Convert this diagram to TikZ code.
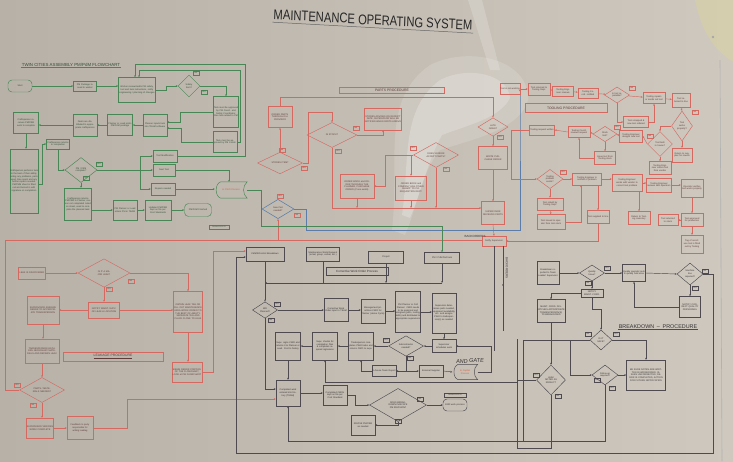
\documentclass[tikz,border=0pt]{standalone}
\usepackage{fontspec}
\setmainfont{Liberation Sans}
\usetikzlibrary{shapes.geometric,arrows.meta}
\definecolor{bgl}{RGB}{184,177,167}
\definecolor{bgr}{RGB}{206,200,190}
\definecolor{gl}{RGB}{72,135,85}
\definecolor{gt}{RGB}{50,80,58}
\definecolor{rl}{RGB}{212,105,98}
\definecolor{rt}{RGB}{95,60,58}
\definecolor{kl}{RGB}{78,74,80}
\definecolor{kt}{RGB}{55,50,52}
\definecolor{bl}{RGB}{92,125,172}
\definecolor{org}{RGB}{220,90,60}
\newcommand\tnyf{\fontsize{2.3}{2.75}\selectfont}
\newcommand\tagf{\fontsize{1.7}{1.9}\selectfont}
\newcommand\hdf{\fontsize{3.4}{3.8}\selectfont}
\begin{document}
\begin{tikzpicture}[x=1pt,y=-1pt,
  every node/.style={font=\tnyf, align=center},
  bxs/.style n args={2}{rectangle, minimum width=#1pt, minimum height=#2pt, text width=#1pt, inner xsep=0pt, inner ysep=0.4pt},
  dz/.style n args={3}{diamond, minimum width=#1pt, minimum height=#2pt, text width=#3pt, inner sep=0pt},
  gB/.style={draw=gl, line width=0.45pt, text=gt},
  rB/.style={draw=rl, line width=0.45pt, text=rt},
  kB/.style={draw=kl, line width=0.45pt, text=kt},
  gL/.style={draw=gl, line width=0.45pt},
  rL/.style={draw=rl, line width=0.45pt},
  kL/.style={draw=kl, line width=0.45pt},
  bL/.style={draw=bl, line width=0.55pt},
  ar/.style={-{Stealth[length=2pt,width=1.7pt]}},
  stad/.style={rounded corners=4pt},
  tg/.style={draw, rectangle, font=\tagf, inner sep=0.25pt, minimum width=6pt, minimum height=3.6pt},
  hd/.style={font=\hdf, inner sep=0.5pt}
]
\useasboundingbox (0,0) rectangle (733,461);
\shade[left color=bgl,right color=bgr] (0,0) rectangle (733,461);
% glare and tape
\fill[white,opacity=0.15] (392,230) .. controls (400,160) and (380,100) .. (430,65) .. controls (470,45) and (530,60) .. (528,100) .. controls (520,130) and (470,140) .. (440,150) .. controls (420,175) and (418,205) .. (405,235) -- cycle;
\fill[white,opacity=0.22] (402,215) .. controls (410,160) and (400,110) .. (440,80) .. controls (470,65) and (508,75) .. (510,98) .. controls (500,118) and (468,125) .. (442,135) .. controls (428,160) and (422,190) .. (410,218) -- cycle;
\fill[white,opacity=0.18] (468,0) -- (482,0) -- (500,70) -- (490,70) -- cycle;
\fill[yellow!30!bgr,opacity=0.35] (695,0) -- (733,0) -- (733,62) .. controls (718,52) and (703,38) .. (695,0) -- cycle;
\fill[gray!70] (713,37) circle (1.4);
\draw[gray!60,line width=0.6pt] (720,60) -- (722,461);

% title
\node[font=\fontsize{14}{14}\selectfont, xscale=0.8, rotate=-2.5, text=black!85, inner sep=1pt] (title) at (373,20) {MAINTENANCE OPERATING SYSTEM};
\draw[black!60,line width=0.5pt] ([yshift=-1.5pt]title.south west) -- ([yshift=-1.5pt]title.south east);

%================ GREEN PM SECTION
\node[hd, text=gt, font=\fontsize{4.4}{5}\selectfont] (ghd) at (71,65) {TWIN CITIES ASSEMBLY PM/PdM FLOWCHART};
\draw[gL] (ghd.south west) -- (ghd.south east);
\node[gB, stad, bxs={24}{12}] (st) at (20,86) {Start};
\node[gB, bxs={23}{10}] (g1) at (85,86) {PM Package issued to worker};
\node[gB, bxs={37}{25}] (g2) at (137,90) {Worker reviews/edits PM safety, tool and task instructions, notify engineering / planning of changes};
\node[gB, dz={22}{22}{11}] (gd1) at (189,86) {Safety item?};
\node[gB, bxs={25}{31}] (g4) at (226,112) {Task must be approved by PM Coord. and Safety Coordinator, then task added to PM};
\node[gB, bxs={24}{21}] (g5) at (225,142) {Task must be approved by PM Coord.};
\node[gB, bxs={24}{22}] (g6) at (155,125) {Planner inputs task into TEAM software};
\node[gB, bxs={25}{21}] (g7) at (120,125) {Planner or Lead prints PM/PdM package};
\node[gB, bxs={24}{22}] (g8) at (85,125) {Deals are distributed to appropriate craftsperson};
\node[gB, bxs={25}{21}] (g9) at (26,123) {Craftsperson receives PM/PdM work to complete};
\node[gB, bxs={28}{64}] (g10) at (24,181) {Craftsperson performs task to the best of their ability, noting any problems, parts used, time spent and any further repairs needed. PM/PdM sheet is filled out and turned in with signature on completion};
\node[gB, bxs={23}{10}] (g11) at (58,144) {Craftsperson returns to completion};
\node[gB, dz={32}{25}{15}] (gd2) at (81,170) {PM / PdM complete?};
\node[gB, bxs={27}{32}] (g12) at (78,204) {Craftsperson returns PM/PdM to Planner, reason not completed noted on sheet, used to complete the planned task};
\node[gB, bxs={24}{20}] (g13) at (125,210) {PM Planner or Lead enters PM in TEAM};
\node[gB, bxs={26}{20}] (g14) at (158,210) {Updated PM/PdM kept on file per Cost Standards};
\node[gB, stad, bxs={27}{13}] (gend) at (198,210) {PM/PdM Finished};
\node[gB, bxs={24}{12}] (gtm) at (165,156) {Tool Modification};
\node[gB, bxs={22}{12}] (gnt) at (164,170) {Next Tool};
\node[gB, bxs={24}{12}] (grn) at (163,189) {Repairs needed};
\node[bxs={32}{16}, text width=22pt, text=org] (gand) at (231,190) {to CWO Process};
\draw[gL] ([xshift=6pt]gand.north west) -- (gand.north east) to[bend right=50] (gand.south east) -- ([xshift=6pt]gand.south west) to[bend left=75] ([xshift=6pt]gand.north west);
\node[gB, tg] (tg1) at (196,73) {NO};
\node[gB, tg] (tg2) at (204,92) {YES};
\node[gB, tg] (tg3) at (99,164) {YES};
\node[gB, tg] (tg4) at (86,178) {NO};
\node[gB, tg, minimum width=20pt] (grev) at (219,227) {Revised 11-12-03};

\draw[gL,ar] (st.east) -- (st.east -| g1.west);
\draw[gL,ar] (g1.east) -- (g1.east -| g2.west);
\draw[gL,ar] (g2.east) -- ++(10,0) |- (gd1.west);
\draw[gL,ar] (gd1.east) -| (g4.north);
\draw[gL,ar] (g4.west) -- ++(-33,0) |- ([yshift=3pt]g6.east);
\draw[gL,ar] (g5.west) -- ++(-32,0) |- ([yshift=-3pt]g6.east);
\draw[gL,ar] (g5.east) -| ++(3,-72) -| ([xshift=2pt]g2.north);
\draw[gL,ar] (gtm.east) -| ++(68,-92) -| ([xshift=-2pt]g2.north);
\draw[gL,ar] (g6.west) -- (g6.west -| g7.east);
\draw[gL,ar] (g7.west) -- (g7.west -| g8.east);
\draw[gL,ar] (g8.west) -- (g8.west -| g9.east);
\draw[gL,ar] (g9.south) -- (g9.south |- g10.north);
\draw[gL,ar] ([yshift=-3pt]g10.east) -- ++(4,0) |- (g11.west);
\draw[gL,ar] (g11.south) |- (gd2.west);
\coordinate (gsp) at (140,170);
\draw[gL,ar] (gd2.east) -- (gnt.west);
\draw[gL,ar] (gd2.east -| gsp) |- (gtm.west);
\draw[gL,ar] (gd2.east -| gsp) |- (grn.west);
\draw[gL,ar] (gnt.east) -| ([xshift=-2pt]gand.north);
\draw[gL,ar] (grn.east) -- (grn.east -| gand.west);
\draw[gL,ar] (gd2.south) -- (gd2.south |- g12.north);
\draw[gL,ar] (g12.east |- g13.west) -- (g13.west);
\draw[gL,ar] (g13.east) -- (g14.west);
\draw[gL,ar] (g14.east) -- (gend.west);

%================ PARTS (red)
\node[rB, hd, minimum width=105pt, minimum height=6pt] (rhd) at (392,90) {PARTS PROCEDURE};
\node[rB, bxs={24}{21}] (rp1) at (280,117) {ORDER PARTS THROUGH SUPERVISOR};
\node[rB, dz={45}{21}{20}] (rs) at (280,163) {STORES ITEM?};
\node[rB, dz={50}{25}{22}] (ri) at (332,135) {IN STOCK?};
\node[rB, bxs={37}{22}] (ra) at (383,119) {STORES ADVISES ON RECEIPT DATE, SUPERVISOR WILL BE NOTIFIED WHEN PARTS ARRIVE};
\node[rB, dz={45}{25}{20}] (rv) at (436,155) {DOES VENDOR ACCEPT PARTS?};
\node[rB, bxs={34}{24}] (rb1) at (357,186) {ORDER BOOK and ORDER THROUGH THE PLANNER, PURCHASE ORDER (if one exists)};
\node[rB, bxs={31}{24}] (rb2) at (411,188) {ORDER BOOK and COMPANY HAS OTHER SUBMIT TO P.O. REQUISITION DEPT.};
\node[rB, dz={30}{16}{14}] (rlate) at (493,127) {LATE ISSUE?};
\node[rB, bxs={29}{23}] (rpo) at (493,158) {WRITE PURCHASE ORDER};
\node[rB, bxs={23}{23}] (rsr) at (493,213) {SUPERVISOR RECEIVES PARTS};
\node[rB, bxs={24}{10}] (rret) at (494,241) {Notify Supervisor};
\node[draw=bl, line width=0.55pt, text=rt, dz={32}{18}{15}] (bd) at (278,209) {New Part needed?};
\node[rB, tg] (tg5) at (282,150) {NO};
\node[rB, tg] (tg6) at (304,168) {YES};
\node[rB, tg] (tg7) at (356,128) {NO};
\node[rB, tg] (tg8) at (338,151) {YES};
\node[rB, tg] (tg9) at (413,148) {YES};
\node[rB, tg] (tg10) at (446,169) {NO};
\node[rB, tg] (tg11) at (500,137) {YES};
\node[rB, tg] (tg12) at (280,196) {YES};
\node[rB, tg] (tg13) at (297,215) {NO};
\node[font=\fontsize{3}{3}\selectfont, text=kt] (bko) at (475,236) {BACKORDERS};
\coordinate (ry) at (0,97);
\coordinate (ry2) at (0,208);
\draw[rL,ar] (rs.north) -- (rp1.south);
\draw[rL,ar] (rp1.north) |- (rlate.north |- ry) -- (rlate.north);
\draw[rL,ar] (rs.east) -- ++(5,0) |- ([yshift=10pt]ri.north) -- (ri.north);
\draw[rL,ar] (ri.east) -| (ra.south);
\draw[rL,ar] (ri.south) |- ([yshift=5pt]rsr.west);
\draw[rL,ar] (rb1.south) -- (rb1.south |- ry2);
\draw[rL,ar] (rb2.south) -- (rb2.south |- ry2);
\draw[rL,ar] (rv.south) -- (rv.south |- ry2);
\draw[rL,ar] (rv.west) -- ++(-28,0) |- (rb1.east);
\draw[rL,ar] (rb2.north |- rv.west) -- (rb2.north);
\draw[rL,ar] (rlate.south) -- (rpo.north);
\draw[rL,ar] (rpo.south) -- (rsr.north);
\draw[rL,ar] (rsr.south) -- (rret.north);
\coordinate (bcorner) at (520,230);
\draw[bL,ar] (bd.east) -- ++(12,0) |- (bcorner) -- (bcorner |- rhd.south) -- ++(0,-4);

%================ TOOLING (red)
\node[rB, hd, minimum width=82pt, minimum height=9pt] (thd) at (566,108) {TOOLING PROCEDURE};
\node[rB, bxs={20}{11}] (t1) at (510,89) {Tool is not working};
\node[rB, bxs={22}{12}] (t2) at (539,89) {Tool returned to Tooling Dept.};
\node[rB, bxs={21}{10}] (t3) at (563,91) {Tooling Engineer reviews};
\node[rB, bxs={20}{10}] (t4) at (588,93) {Tooling Coord. notified};
\node[rB, dz={25}{16}{11}] (td1) at (617,95) {Is tool repairable?};
\node[rB, bxs={22}{11}] (t5) at (654,98) {Tooling repairs or sends out tool};
\node[rB, bxs={18}{14}] (t6) at (681,100) {Tool returned to line};
\node[rB, bxs={25}{11}] (t7) at (636,122) {Tool scrapped \& new tool ordered};
\node[rB, dz={21}{30}{10}] (td2) at (682,126) {Tool works properly?};
\node[rB, bxs={20}{14}] (t8) at (682,155) {Return to supplier for rework};
\node[rB, bxs={25}{10}] (t9) at (542,130) {Tooling request written};
\node[rB, bxs={22}{11}] (t10) at (579,132) {Tooling Coord. reviews request};
\node[rB, dz={24}{15}{11}] (td3) at (605,134) {Stock tool?};
\node[rB, bxs={23}{12}] (t11) at (631,136) {Tooling Engineer designs new tool};
\node[rB, dz={25}{25}{11}] (td4) at (660,144) {Tool built in house?};
\node[rB, bxs={21}{13}] (t12) at (605,158) {Issue tool from Tooling stock};
\node[rB, bxs={22}{13}] (t13) at (660,168) {Tooling Engineer orders tool from vendor};
\node[rB, dz={26}{18}{12}] (td5) at (550,179) {Tooling problem exists?};
\node[rB, bxs={29}{12}] (t14) at (587,179) {Tooling Engineer is notified of problem};
\node[rB, bxs={30}{17}] (t15) at (627,183) {Tooling Engineer works with vendor to correct tool problem};
\node[rB, bxs={25}{14}] (t16) at (659,185) {Tooling Engineer reviews with operators};
\node[rB, bxs={22}{18}] (t17) at (692,188) {Operator verifies tool works properly};
\node[rB, bxs={26}{12}] (t18) at (550,204) {Tool rebuilt by Tooling Dept.};
\node[rB, bxs={28}{15}] (t19) at (551,222) {Tool issued to operator from tool stock};
\node[rB, bxs={22}{13}] (t20) at (598,217) {Tool supplied to line};
\node[rB, bxs={22}{13}] (t21) at (639,218) {Return to Tooling inventory};
\node[rB, bxs={20}{11}] (t22) at (668,220) {Tool returned to stock};
\node[rB, bxs={22}{13}] (t23) at (692,220) {Tool approved for production};
\node[rB, bxs={22}{18}] (t24) at (692,244) {Tag of out-of-use tool is filled out by Tooling};
\node[rB, tg] (tg14) at (632,88) {NO};
\node[rB, tg] (tg15) at (617,127) {YES};
\node[rB, tg] (tg16) at (650,136) {NO};
\node[rB, tg] (tg17) at (563,172) {YES};
\node[rB, tg] (tg18) at (695,112) {NO};
\draw[rL,ar] (t1) -- (t2);
\draw[rL,ar] (t2) -- (t3);
\draw[rL,ar] (t3) -- (t4);
\draw[rL,ar] (t4) -- (td1);
\draw[rL,ar] (td1) -- (t5);
\draw[rL,ar] (t5) -- (t6);
\draw[rL,ar] (td1.south) |- (t7.west);
\draw[rL,ar] (t7.east) -| (t5.south);
\draw[rL,ar] (t6.south) -- (td2.north);
\draw[rL,ar] (td2.south) -- (t8.north);
\draw[rL,ar] (td2.west) -| (td4.north);
\draw[rL,ar] (td4.west) -- (t11.east);
\draw[rL,ar] (t11.west) -- (td3.east);
\draw[rL,ar] (td3.west) -- (t10.east);
\draw[rL,ar] (t10.west) -- (t9.east);
\draw[rL,ar] (td3.south) -- (t12.north);
\draw[rL,ar] (t12.west) -| (t10.south);
\draw[rL,ar] (td4.south) -- (t13.north);
\draw[rL,ar] (t9.west) -- ++(-18,0) |- (td5.west);
\draw[rL,ar] (td5.east) -- (t14.west);
\draw[rL,ar] (t14.east) -- (t14.east -| t15.west);
\draw[rL,ar] (t15.east) -- (t15.east -| t16.west);
\draw[rL,ar] (t16.east) -- (t16.east -| t17.west);
\draw[rL,ar] (t17.south) -- (t23.north);
\draw[rL,ar] (t23.west) -- (t22.east);
\draw[rL,ar] (t23.south) -- (t24.north);
\draw[rL,ar] (td5.south) -- (t18.north);
\draw[rL,ar] (t18.south) -- (t19.north);
\draw[rL,ar] (t19.east) -| ([xshift=-6pt]t14.south);
\draw[rL,ar] (t20.north |- t14.south) -- (t20.north);
\draw[rL,ar] (t21.north |- t15.south) -- (t21.north);
\draw[rL,ar] (t20.south) |- (rret.east);

%================ LEAKAGE (red)
\node[rB, bxs={27}{12}] (l1) at (32,273) {LEAK IS DISCOVERED};
\node[rB, dz={52}{23}{24}] (ld1) at (104,273) {IS IT A MAJOR LEAK?};
\node[rB, bxs={31}{16}] (l2) at (104,310) {NOTIFY MAINT. SUPV. OF LEAK \& LOCATION};
\node[rB, bxs={32}{28}] (l3) at (43,310) {SUPERVISOR ASSIGNS REPAIR TO APPROPRIATE TRADESPERSON};
\node[rB, bxs={34}{24}] (l4) at (42,351) {TRADESPERSON GATHERS NECESSARY MATERIALS AND REPAIRS LEAK};
\node[rB, hd, minimum width=100pt, minimum height=9pt] (lhd) at (113,356.5) {\underline{LEAKAGE PROCEDURE}};
\node[rB, bxs={29}{41}] (l5) at (188,312) {OBTAIN LEAK TAG OR FILL OUT MAINTENANCE AREA WORK ORDER TO THE BEST OF ABILITY. SEPARATE TAG AND PLACE CLOSE TO LEAK};
\node[rB, bxs={30}{20}] (l6) at (187,372) {BEGIN REPAIR PORTION OF THE FLOWCHART, LOOK at PM FLOWCHART};
\node[rB, dz={45}{25}{20}] (ld2) at (42,390) {PARTS / MATERIALS NEEDED?};
\node[rB, bxs={27}{20}] (l7) at (40,428) {SUPERVISOR VERIFIES WORK COMPLETE};
\node[rB, bxs={26}{23}] (l8) at (80,428) {Feedback to party responsible for writing leaktag};
\node[rB, tg] (tg19) at (131,281) {NO};
\node[rB, tg] (tg20) at (109,289) {YES};
\node[rB, tg] (tg21) at (17,385) {YES};
\node[rB, tg] (tg22) at (33,405) {NO};
\coordinate (rleft) at (5,240);
\draw[rL,ar] (l1.east) -- (ld1.west);
\draw[rL,ar] (ld1.south) -- (l2.north);
\draw[rL,ar] (ld1.east) -| (l5.north);
\draw[rL,ar] (l2.west) -- (l3.east);
\draw[rL,ar] (l2.east) -- (l2.east -| l5.west);
\draw[rL,ar] (l3.south) -- (l3.south |- l4.north);
\draw[rL,ar] (l4.south) -- (ld2.north);
\draw[rL,ar] (ld2.south) -- (ld2.south |- l7.north);
\draw[rL,ar] (l7.east) -- (l8.west);
\draw[rL,ar] (l5.south) -- (l5.south |- l6.north);
\draw[rL] (ld2.west) -| (rleft) -- (rleft -| rret.west);
\draw[rL,ar] (bd.south |- rleft) -- (bd.south);

%================ CORRECTIVE WORK ORDER (dark)
\node[kB, bxs={38}{14}] (kcms) at (265,254) {CMMS/Control Breakdown};
\node[kB, bxs={33}{14}] (kwr) at (323,254) {Maintenance Work Request (email, group, verbal, etc.)};
\node[kB, bxs={35}{12}] (kpj) at (386,257) {Project};
\node[kB, bxs={35}{11}] (kpm) at (442,258) {PM / PdM find task};
\node[kB, hd, minimum width=62pt, minimum height=8pt, font=\fontsize{3}{3.4}\selectfont] (khd) at (357,271) {Corrective Work Order Process};
\node[kB, dz={25}{15}{12}] (kd1) at (265,310) {WO Planned?};
\node[kB, bxs={24}{23}] (k1) at (336,310) {Corrective Work Order input to TEAM};
\node[kB, bxs={24}{24}] (k2) at (373,311) {Management prioritizes CWO for Planner (Home Cycle)};
\node[kB, bxs={25}{41}] (k3) at (408,312) {PM Planner or Cell Planner: CWO needs to be analyzed and assigned (parts, tooling, skills) and distributed to appropriate supervisors};
\node[kB, bxs={24}{40}] (k4) at (444,313) {Supervisor determines parts needed, equipment availability, etc. and assigns CWO to tradesperson(s) as needed};
\node[kB, bxs={24}{13}] (k5) at (444,346) {Supervisor schedules work};
\node[kB, dz={35}{18}{16}] (kd2) at (406,346) {Subcontractor needed?};
\node[kB, bxs={25}{28}] (k6) at (361,346) {Tradesperson completes CWO tasks and returns CWO to supv.};
\node[kB, bxs={25}{28}] (k7) at (325,346) {Supv. checks for completion, files \& completes required signatures};
\node[kB, bxs={25}{28}] (k8) at (288,346) {Supv. signs CWO and returns it to Planner or Lead. Post to history};
\node[kB, bxs={24}{11}] (k9) at (384,371) {In-house Team Report};
\node[kB, bxs={24}{12}] (k10) at (431,371) {External Supplier};
\node[bxs={25}{15}, text width=18pt, text=org] (kand) at (465,372) {to Capital Process};
\draw[kL] ([xshift=6pt]kand.north west) -- (kand.north east) to[bend right=50] (kand.south east) -- ([xshift=6pt]kand.south west) to[bend left=75] ([xshift=6pt]kand.north west);
\node[font=\fontsize{5.5}{6}\selectfont\itshape, text=kt, rotate=4] (andg) at (470,361) {AND GATE};
\node[kB, bxs={24}{26}] (kcw) at (288,393) {Completed work entered into history (TEAM)};
\node[kB, bxs={24}{20}] (k11) at (335,395) {Completed CWOs kept on file per Cost Standard};
\node[kB, dz={57}{30}{26}] (kd3) at (398,405) {DOES BREAKDOWN INDICATE PM REVISION?};
\node[kB, stad, bxs={24}{12}] (kend) at (455,405) {END work process};
\node[kB, tg, minimum width=22pt] (krev) at (455,395) {Revised 11-12-03};
\node[kB, bxs={24}{20}] (k12) at (363,425) {REVISE PM/PdM as needed};
\node[kB, tg] (tg23) at (277,304) {YES};
\node[kB, tg] (tg24) at (271,320) {NO};
\node[kB, tg] (tg25) at (386,340) {YES};
\node[kB, tg] (tg26) at (410,358) {NO};
\node[kB, tg] (tg27) at (420,399) {NO};
\node[kB, tg] (tg28) at (398,421) {YES};
\node[font=\fontsize{3}{3}\selectfont, text=kt, rotate=-90] (bko2) at (507,268) {BACKORDERS};
\coordinate (ky) at (0,283);
\coordinate (ko) at (236,453);
\coordinate (kr1) at (517,382);
\coordinate (kr2) at (517,441);
\coordinate (kr2b) at (523,441);
\coordinate (kr3) at (517,448);
\draw[kL,ar] (kcms.south) -- (kd1.north);
\draw[kL] (kwr.south) -- (kwr.south |- ky);
\draw[kL,ar] (kpj.south) -- (kpj.south |- ky);
\draw[kL,ar] (kpm.south) -- (kpm.south |- ky);
\draw[kL,ar] (kpm.south |- ky) -- (kcms.south |- ky);
\draw[kL,ar] (kd1.east) -- (k1.west);
\draw[kL,ar] (k1.east) -- (k1.east -| k2.west);
\draw[kL,ar] (k2.east) -- (k2.east -| k3.west);
\draw[kL,ar] (k3.east) -- (k3.east -| k4.west);
\draw[kL,ar] (k4.south) -- (k5.north);
\draw[kL,ar] (k5.west) -- (kd2.east);
\draw[kL,ar] (kd2.west) -- (k6.east);
\draw[kL,ar] (k6.west) -- (k7.east);
\draw[kL,ar] (k7.west) -- (k8.east);
\draw[kL,ar] (kd2.south) |- (k9.east);
\draw[kL,ar] (kd2.south |- k9.east) -- (k10.west);
\draw[kL,ar] (k9.west) -| (k6.south);
\draw[kL,ar] (k10.east) -- (kand.west);
\draw[kL,ar] (kand.east) -- ++(14,0) |- (k5.east);
\draw[kL] (rret.south) -- ++(0,105);
\draw[kL,ar] ([xshift=9pt]rret.south) -- ++(0,40);
\draw[kL] ([xshift=9pt]rret.south) -- ++(0,85);
\draw[kL,ar] (k8.south) -- (kcw.north);
\draw[kL,ar] (kr1) -- (k7.south |- kr1) -- (k7.south);
\draw[kL,ar] (kd1.south) |- ([yshift=4pt]kcw.west);
\draw[kL,ar] (kcw.east) -- (kcw.east -| k11.west);
\draw[kL,ar] (k11.east) -- ++(8,0) |- (kd3.west);
\draw[kL,ar] (kd3.east) -- (kend.west);
\draw[kL,ar] (kd3.south) |- (k12.east);
\draw[kL,ar] (kr2) -- (kcw.south |- kr2) -- (kcw.south);
\draw[kL] (kr1 |- 0,339) -- (kr3);
\draw[rL,ar] (l8.east) -- ++(34,0) |- ([yshift=-6pt]kcw.west);
\draw[rL,ar] (l6.east) -- ++(11,0) |- ([yshift=3pt]kcms.west);
\draw[gL,ar] (gand.east) -- ++(14,0) |- (kpm.north |- 0,226) -- (kpm.north);

%================ BREAKDOWN (dark)
\node[kB, bxs={22}{23}] (b1) at (548,273) {Breakdown reported to Team Leader/ Supervisor};
\node[kB, dz={25}{16}{11}] (bq) at (592,273) {Quality Issue?};
\node[kB, bxs={23}{17}] (b2) at (634,273) {Quality operator puts in quality hold area};
\node[kB, dz={26}{22}{12}] (bdd) at (690,274) {Machine line repaired?};
\node[kB, bxs={21}{21}] (b3) at (690,307) {NOTIFY CORRECT QUALITY PERSONNEL};
\node[kB, bxs={22}{8}] (bn) at (592,293) {NOTIFY MAINT. CORD.};
\node[kB, bxs={28}{23}] (b4) at (551,311) {MAINT. CORD. DISPATCHES APPROPRIATE TRADESPERSON(S) TO BREAKDOWN};
\node[font=\fontsize{5.4}{6}\selectfont, text=kt, inner sep=0.5pt] (bhd) at (658,327) {BREAKDOWN\enspace--\enspace PROCEDURE};
\draw[kL] (bhd.south west) -- (bhd.south east);
\node[kB, dz={22}{20}{10}] (bsafe) at (601,340) {IS IT SAFE?};
\node[kB, dz={29}{30}{13}] (bleak) at (551,380) {LEAK NOTED AS RESULT?};
\node[kB, dz={26}{20}{12}] (bfol) at (605,375) {Follow up required?};
\node[kB, bxs={39}{30}] (b5) at (646,375) {BE SURE NOTES ARE WRITTEN IN WORKORDER, ISSUES UNCORRECTED, REPAIR IS COMPLETED, ACTION FOR FUTURE NOTIFICATION};
\node[kB, tg] (tg29) at (607,268) {YES};
\node[kB, tg] (tg30) at (588,283) {NO};
\node[kB, tg] (tg31) at (705,271) {NO};
\node[kB, tg] (tg32) at (695,288) {YES};
\node[kB, tg] (tg33) at (588,334) {NO};
\node[kB, tg] (tg34) at (616,334) {YES};
\node[kB, tg] (tg35) at (536,375) {YES};
\node[kB, tg] (tg36) at (558,396) {NO};
\node[kB, tg] (tg37) at (597,380) {NO};
\node[kB, tg] (tg38) at (612,388) {YES};
\draw[kL,ar] (b1.east) -- (bq.west);
\draw[kL,ar] (bq.east) -- (b2.west);
\draw[kL,ar] (b2.east) -- (bdd.west);
\draw[kL,ar] (bdd.south) -- (b3.north);
\draw[kL,ar] (b3.west) -| (b2.south);
\draw[kL,ar] (bq.south) -- (bn.north);
\draw[kL,ar] (bn.south) -- ++(0,12) -| (bsafe.north);
\draw[kL,ar] (bn.west) -| (b4.north);
\draw[kL,ar] (b4.south) -- (bleak.north);
\draw[kL,ar] (bsafe.east) -| (b5.north);
\draw[kL,ar] (bsafe.west) -- ++(-20,0) |- (bfol.west);
\draw[kL] (bsafe.west) -| (kr2b);
\draw[kL,ar] (bfol.east) -- (b5.west);
\draw[kL] (bfol.south) |- (kr2);
\draw[kL] (bleak.west) -- (bleak.west -| kr1);
\draw[kL] (bleak.south) |- (kr3);
\draw[kL,ar] (bdd.east) -- ++(10,0) |- (ko) |- ([yshift=-3pt]kcms.west);
\end{tikzpicture}
\end{document}
